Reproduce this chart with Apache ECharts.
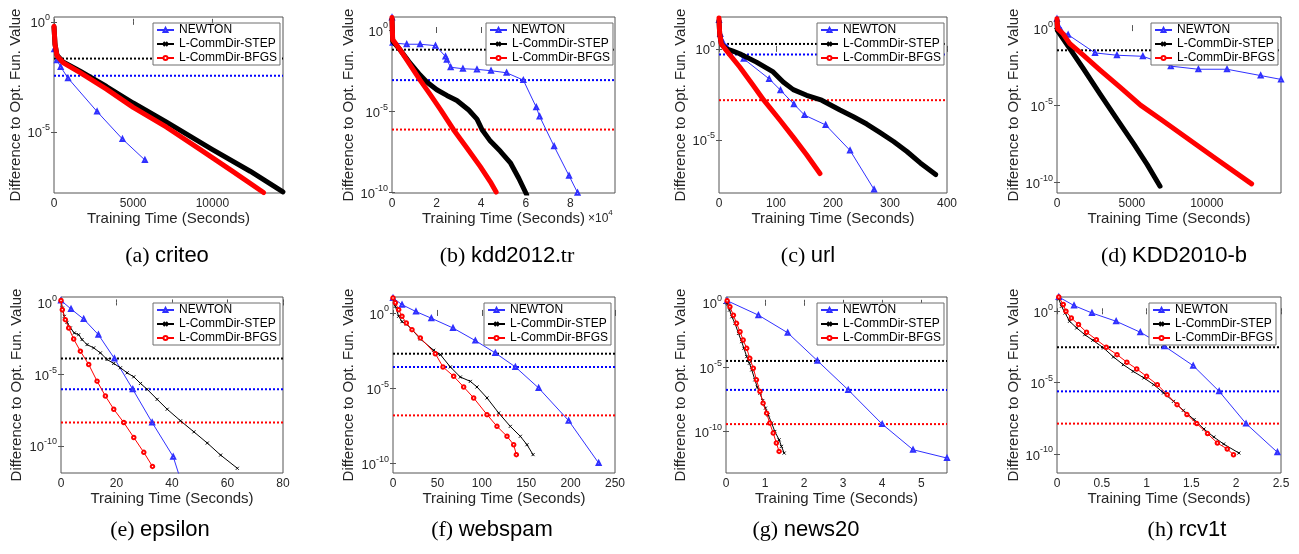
<!DOCTYPE html>
<html>
<head>
<meta charset="utf-8">
<script src="https://cdn.jsdelivr.net/npm/echarts@6/dist/echarts.min.js"></script>
<style>
html, body { margin: 0; padding: 0; background: #fff; }
#chart { width: 1299px; height: 554px; }
</style>
</head>
<body>
<div id="chart"></div>
<script>
// y values are log10 of the difference to the optimal function value
const methods = ['NEWTON', 'L-CommDir-STEP', 'L-CommDir-BFGS'];

// (a) criteo, time in seconds
const criteoNewton = [[21,-1.25],[190,-1.75],[422,-2.05],[886,-2.56],[2722,-4.08],[4326,-5.33],[5739,-6.28]];
const criteoStep = [[0,-0.23],[63,-1.02],[190,-1.52],[570,-1.82],[1625,-2.23],[3313,-2.94],[5000,-3.69],[7110,-4.56],[9980,-5.80],[12386,-6.79],[14454,-7.73]];
const criteoBfgs = [[0,-0.2],[63,-1.02],[190,-1.55],[570,-1.85],[1625,-2.30],[3313,-3.06],[5000,-3.89],[7110,-4.79],[9220,-5.80],[11330,-6.82],[13230,-7.76]];
const criteoLevels = [-2.45, -1.67, null];

// (b) kdd2012.tr, time in 1e4 seconds
const kddNewton = [[0,0.77],[0.03,-0.79],[0.66,-0.875],[1.26,-0.875],[1.95,-0.96],[2.40,-1.63],[2.46,-1.83],[2.63,-2.29],[3.18,-2.38],[3.81,-2.42],[4.44,-2.5],[5.14,-2.63],[5.89,-3.08],[6.47,-4.75],[6.62,-5.31],[7.27,-7.15],[7.94,-8.96],[8.32,-10.0]];
const kddStep = [[0,0.67],[0.03,-0.69],[0.36,-1.21],[0.81,-2.04],[1.26,-2.77],[1.56,-3.19],[2.01,-3.67],[2.46,-4.02],[2.91,-4.33],[3.44,-4.92],[3.81,-5.48],[4.04,-6.13],[4.41,-6.83],[4.86,-7.46],[5.32,-8.19],[5.69,-9.13],[6.04,-10.13]];
const kddBfgs = [[0,0.77],[0.03,-0.58],[0.36,-1.21],[0.81,-2.15],[1.26,-3.08],[1.71,-3.96],[2.19,-4.92],[2.76,-6.13],[3.36,-7.25],[3.96,-8.4],[4.41,-9.33],[4.67,-9.96]];
const kddLevels = [-3.08, -1.21, -6.12];

// (c) url
const urlNewton = [[0,1.58],[2.3,0.82],[7.0,0.36],[14.1,0.09],[43.4,-0.55],[88.0,-1.65],[107.9,-2.27],[131.4,-3.04],[150.1,-3.64],[187.1,-4.18],[229.9,-5.58],[272.1,-7.73]];
const urlStep = [[0,1.55],[1.2,0.82],[4.1,0.27],[12.9,0],[24.6,-0.13],[36.4,-0.27],[65.7,-0.73],[95.0,-1.27],[112.6,-1.82],[130.2,-2.24],[153.7,-2.55],[180.1,-2.82],[212.3,-3.36],[235.8,-3.73],[259.2,-4.13],[282.7,-4.6],[306.2,-5.09],[329.6,-5.64],[353.1,-6.27],[380.1,-6.91]];
const urlBfgs = [[0,1.69],[1.2,0.82],[4.1,0.27],[12.9,-0.09],[36.4,-1.0],[59.8,-2.0],[78.6,-2.82],[106.7,-3.91],[130.2,-4.85],[153.7,-5.82],[177.1,-6.85]];
const urlLevels = [-0.31, 0.27, -2.82];

// (d) KDD2010-b
const kdd10Newton = [[0,0.6],[90,0.17],[292,-0.19],[742,-0.43],[2539,-1.61],[4000,-1.76],[5730,-1.83],[7595,-2.47],[9437,-2.67],[11347,-2.67],[13594,-3.08],[14950,-3.33]];
const kdd10Step = [[0,0.45],[22,-0.15],[854,-1.33],[1753,-2.62],[2876,-4.28],[4000,-5.91],[5123,-7.51],[6022,-8.86],[6876,-10.26]];
const kdd10Bfgs = [[0,0.6],[45,-0.04],[404,-0.37],[854,-1.01],[1753,-1.76],[2876,-2.73],[4224,-3.85],[5573,-5.0],[6921,-5.91],[8718,-7.16],[10516,-8.41],[12988,-10.11]];
const kdd10Levels = [null, -1.44, null];

// (e) epsilon
const epsNewton = [[0,0.14],[3.61,-0.46],[8.18,-1.16],[13.48,-2.25],[19.25,-3.91],[25.87,-6.06],[32.85,-8.38],[40.43,-10.76],[43.68,-12.73]];
const epsStep = [[0,0.14],[0.48,-0.39],[1.2,-0.97],[2.17,-1.39],[3.37,-1.78],[4.81,-2.13],[6.38,-2.25],[7.58,-2.59],[9.39,-2.94],[11.79,-3.17],[14.2,-3.52],[16.61,-3.98],[19.01,-4.26],[21.42,-4.56],[23.83,-4.91],[26.23,-5.19],[28.64,-5.65],[31.05,-6.06],[34.66,-6.76],[38.27,-7.45],[43.08,-8.26],[47.89,-9.03],[52.71,-9.81],[57.52,-10.65],[63.54,-11.57]];
const epsBfgs = [[0,0.14],[0.48,-0.51],[1.56,-1.2],[2.77,-1.78],[4.57,-2.55],[6.98,-3.4],[9.99,-4.33],[13.0,-5.49],[16.0,-6.53],[19.01,-7.45],[22.62,-8.38],[26.23,-9.42],[29.84,-10.46],[32.97,-11.44]];
const epsLevels = [-6.06, -3.91, -8.38];

// (f) webspam
const webNewton = [[0,1.0],[10.14,0.55],[25.9,0.09],[43.17,-0.35],[67.57,-1.0],[92.72,-1.84],[115.2,-2.66],[137.8,-3.59],[164.0,-4.99],[197.8,-7.16],[231.6,-9.98]];
const webStep = [[0,1.0],[2.63,0.44],[6.38,-0.22],[10.14,-0.58],[15.02,-0.73],[21.4,-1.11],[30.78,-1.73],[45.8,-2.48],[53.3,-2.77],[64.56,-3.59],[75.83,-4.26],[87.09,-4.55],[94.59,-4.92],[105.86,-5.65],[119.0,-6.65],[132.1,-7.54],[143.4,-8.2],[150.9,-8.76],[157.7,-9.42]];
const webBfgs = [[0,1.0],[2.63,0.67],[6.38,0.22],[10.14,-0.22],[15.02,-0.67],[21.4,-1.11],[30.78,-1.66],[47.67,-2.71],[56.3,-3.59],[68.32,-4.21],[79.58,-4.92],[90.84,-5.65],[105.86,-6.76],[117.1,-7.54],[128.4,-8.2],[135.9,-8.76],[138.9,-9.42]];
const webLevels = [-3.59, -2.71, -6.81];

// (g) news20
const newsNewton = [[0.03,0.16],[0.83,-0.96],[1.58,-2.33],[2.34,-4.5],[3.13,-6.77],[4.0,-9.43],[4.79,-11.42],[5.66,-12.07]];
const newsStep = [[0.03,0],[0.09,-0.57],[0.15,-1.09],[0.23,-1.6],[0.32,-2.38],[0.4,-3.02],[0.46,-3.54],[0.53,-4.19],[0.6,-4.7],[0.66,-5.22],[0.74,-5.99],[0.8,-6.56],[0.87,-7.03],[0.94,-7.6],[1.01,-8.19],[1.08,-8.71],[1.17,-9.35],[1.25,-10.0],[1.36,-10.65],[1.42,-11.16],[1.49,-11.68]];
const newsBfgs = [[0.03,0.16],[0.1,-0.31],[0.19,-0.96],[0.27,-1.6],[0.36,-2.25],[0.44,-2.89],[0.53,-3.54],[0.61,-4.32],[0.7,-5.09],[0.78,-5.99],[0.87,-6.9],[0.95,-7.8],[1.04,-8.58],[1.12,-9.35],[1.21,-10.13],[1.29,-10.9],[1.36,-11.55]];
const newsLevels = [-6.77, -4.52, -9.43];

// (h) rcv1t
const rcvNewton = [[0.02,1.0],[0.19,0.4],[0.39,-0.12],[0.66,-0.7],[0.93,-1.47],[1.2,-2.45],[1.52,-3.81],[1.81,-5.61],[2.11,-7.87],[2.46,-9.88]];
const rcvStep = [[0.02,0.86],[0.05,0.35],[0.09,-0.12],[0.14,-0.7],[0.22,-1.17],[0.31,-1.64],[0.4,-2.03],[0.52,-2.57],[0.63,-3.2],[0.74,-3.74],[0.85,-4.21],[0.97,-4.67],[1.08,-5.14],[1.19,-5.72],[1.3,-6.31],[1.41,-6.94],[1.53,-7.59],[1.64,-8.25],[1.75,-8.81],[1.86,-9.3],[2.03,-9.93]];
const rcvBfgs = [[0.02,1.0],[0.07,0.47],[0.1,0],[0.16,-0.47],[0.24,-0.93],[0.33,-1.47],[0.44,-1.99],[0.55,-2.52],[0.67,-3.04],[0.78,-3.57],[0.89,-4.04],[1.0,-4.56],[1.12,-5.14],[1.23,-5.84],[1.34,-6.54],[1.45,-7.24],[1.56,-7.87],[1.68,-8.57],[1.79,-9.23],[1.9,-9.65],[1.97,-10.05]];
const rcvLevels = [-5.61, -2.52, -7.87];

const captionLetters = ['(a)', '(b)', '(c)', '(d)', '(e)', '(f)', '(g)', '(h)'];
const datasetNames = ['criteo', 'kdd2012', 'url', 'KDD2010-b', 'epsilon', 'webspam', 'news20', 'rcv1t'];
const datasetSuffix = ['', '.tr', '', '', '', '', '', ''];
const xMax = [14460, 10, 400, 14950, 80, 250, 5.66, 2.5];
const xTicks = [[0,5000,10000],[0,2,4,6,8],[0,100,200,300,400],[0,5000,10000],[0,20,40,60,80],[0,50,100,150,200,250],[0,1,2,3,4,5],[0,0.5,1,1.5,2,2.5]];
const yMin = [-7.78, -10.02, -7.92, -10.7, -11.9, -10.64, -13.23, -11.33];
const yMax = [0.22, 0.8, 1.75, 0.72, 0.38, 1.06, 0.45, 1.0];
const yTicks = [[0,-5],[0,-5,-10],[0,-5],[0,-5,-10],[0,-5,-10],[0,-5,-10],[0,-5,-10],[0,-5,-10]];

const curves = [
  [criteoNewton, criteoStep, criteoBfgs],
  [kddNewton, kddStep, kddBfgs],
  [urlNewton, urlStep, urlBfgs],
  [kdd10Newton, kdd10Step, kdd10Bfgs],
  [epsNewton, epsStep, epsBfgs],
  [webNewton, webStep, webBfgs],
  [newsNewton, newsStep, newsBfgs],
  [rcvNewton, rcvStep, rcvBfgs]
];
const levels = [criteoLevels, kddLevels, urlLevels, kdd10Levels, epsLevels, webLevels, newsLevels, rcvLevels];

// layout
const gridRects = [[54,17,229,176],[392,17,223,176],[719,17,228,176],[1057,17,224,176],
                   [61,297,222,176],[393,297,222,176],[726,297,221,176],[1057,297,224,176]];
const legendPos = [[153,23],[486,23],[817,23],[1151,23],[153,303],[484,303],[817,303],[1149,303]];
const yNameGap = [29, 35, 26, 33, 37, 37, 38, 33];
const captionPos = [[167,245],[507,245],[808,245],[1174,245],[160,519],[492,519],[806,519],[1187,519]];

const FONT = "'Liberation Sans', Arial, Helvetica, sans-serif";
const SERIF = "'Liberation Serif', 'Times New Roman', serif";
const AXIS_COLOR = '#555';
const TEXT_COLOR = '#262626';
const COLORS = ['#3030ff', '#000000', '#ff0000'];
const LEVEL_COLORS = ['#0000ff', '#000000', '#ff0000'];

const option = {
  animation: false,
  backgroundColor: '#fff',
  grid: [], xAxis: [], yAxis: [], series: [], legend: [], title: [], graphic: []
};

gridRects.forEach(function (r, i) {
  option.grid.push({
    left: r[0], top: r[1], width: r[2], height: r[3],
    show: true, borderColor: AXIS_COLOR, borderWidth: 1,
    containLabel: false, outerBoundsMode: 'none'
  });
  const tickStyle = { inside: true, length: 3, lineStyle: { color: AXIS_COLOR } };
  option.xAxis.push({
    type: 'value', gridIndex: i, min: 0, max: xMax[i], position: 'bottom',
    axisLine: { show: false }, splitLine: { show: false },
    axisTick: Object.assign({ customValues: xTicks[i] }, tickStyle),
    axisLabel: { customValues: xTicks[i], formatter: v => String(v), fontSize: 12, fontFamily: FONT, color: TEXT_COLOR, margin: 5 },
    name: 'Training Time (Seconds)', nameLocation: 'middle', nameGap: 17,
    nameTextStyle: { fontSize: 15, fontFamily: FONT, color: TEXT_COLOR }
  });
  option.xAxis.push({
    type: 'value', gridIndex: i, min: 0, max: xMax[i], position: 'top',
    axisLine: { show: false }, splitLine: { show: false }, axisLabel: { show: false },
    axisTick: Object.assign({ customValues: xTicks[i] }, tickStyle)
  });
  option.yAxis.push({
    type: 'value', gridIndex: i, min: yMin[i], max: yMax[i], position: 'left',
    axisLine: { show: false }, splitLine: { show: false },
    axisTick: Object.assign({ customValues: yTicks[i] }, tickStyle),
    axisLabel: {
      customValues: yTicks[i], margin: 4,
      formatter: v => '{b|10}{s|' + v + '}',
      rich: {
        b: { fontSize: 13, fontFamily: FONT, color: TEXT_COLOR, lineHeight: 17, verticalAlign: 'bottom' },
        s: { fontSize: 9, fontFamily: FONT, color: TEXT_COLOR, lineHeight: 9, verticalAlign: 'top' }
      }
    },
    name: 'Difference to Opt. Fun. Value', nameLocation: 'middle', nameGap: yNameGap[i],
    nameTextStyle: { fontSize: 15, fontFamily: FONT, color: TEXT_COLOR }
  });
  option.yAxis.push({
    type: 'value', gridIndex: i, min: yMin[i], max: yMax[i], position: 'right',
    axisLine: { show: false }, splitLine: { show: false }, axisLabel: { show: false },
    axisTick: Object.assign({ customValues: yTicks[i] }, tickStyle)
  });

  option.legend.push({
    left: legendPos[i][0], top: legendPos[i][1], orient: 'vertical',
    data: methods, selectedMode: false,
    itemWidth: 17, itemHeight: 5, itemGap: 2, padding: [1, 3, 1, 3],
    borderColor: '#6e6e6e', borderWidth: 1, backgroundColor: '#fff',
    textStyle: { fontSize: 12, fontFamily: FONT, color: '#000' }, z: 10
  });

  let caption = '{p|' + captionLetters[i] + '} {s|' + datasetNames[i] + '}';
  if (datasetSuffix[i]) caption += '{p|' + datasetSuffix[i] + '}';
  option.title.push({
    text: caption, left: captionPos[i][0], top: captionPos[i][1], textAlign: 'center', padding: 0,
    textStyle: {
      fontSize: 22, fontWeight: 'normal', fontFamily: SERIF, color: '#000',
      rich: {
        p: { fontSize: 22, fontFamily: SERIF, color: '#000' },
        s: { fontSize: 22, fontFamily: FONT, color: '#000' }
      }
    }
  });
});

// series: bottom row first so legend icons come from the marker-drawn curves
[4, 5, 6, 7, 0, 1, 2, 3].forEach(function (i) {
  const topRow = i < 4;
  levels[i].forEach(function (lv, m) {
    if (lv === null) return;
    option.series.push({
      type: 'line', name: 'target ' + methods[m], xAxisIndex: 2 * i, yAxisIndex: 2 * i,
      data: [[0, lv], [xMax[i], lv]], symbol: 'none', silent: true,
      lineStyle: { color: LEVEL_COLORS[m], width: 2, type: [2, 2] }, z: 2
    });
  });
  curves[i].forEach(function (pts, m) {
    const s = {
      type: 'line', name: methods[m], xAxisIndex: 2 * i, yAxisIndex: 2 * i,
      data: pts, clip: true, silent: true, z: 3 + m,
      emphasis: { disabled: true },
      lineStyle: { color: COLORS[m], width: 1 },
      itemStyle: { color: COLORS[m], borderWidth: 1 }
    };
    if (m === 0) {
      s.symbol = 'emptyTriangle'; s.symbolSize = 4;
    } else if (topRow) {
      s.symbol = 'none';
      s.lineStyle = { color: COLORS[m], width: 5, cap: 'round', join: 'round' };
    } else if (m === 1) {
      s.symbol = 'path://M0,0L10,10M10,0L0,10'; s.symbolSize = 3;
      s.itemStyle = { color: '#000', borderColor: '#000', borderWidth: 1 };
    } else {
      s.symbol = 'emptyCircle'; s.symbolSize = 3.5;
    }
    option.series.push(s);
  });
});

// exponent note of panel (b)'s time axis
option.graphic.push({
  type: 'text', x: 588, y: 209,
  style: {
    text: '{a|\u00d710}{b|4}',
    rich: {
      a: { fontSize: 12, fontFamily: FONT, fill: TEXT_COLOR, lineHeight: 16, verticalAlign: 'bottom' },
      b: { fontSize: 8, fontFamily: FONT, fill: TEXT_COLOR, lineHeight: 8, verticalAlign: 'top' }
    }
  }
});

const chart = echarts.init(document.getElementById('chart'), null, { renderer: 'canvas' });
chart.setOption(option);
</script>
</body>
</html>
